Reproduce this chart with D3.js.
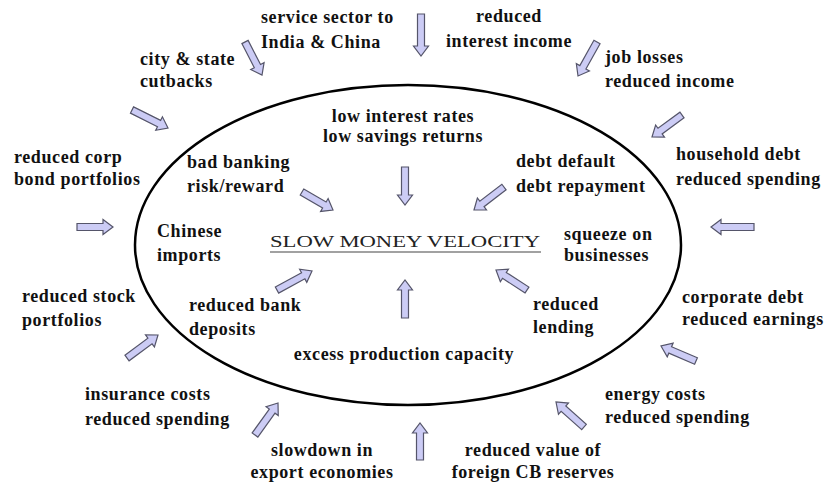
<!DOCTYPE html>
<html>
<head>
<meta charset="utf-8">
<script src="https://cdn.jsdelivr.net/npm/d3@7"></script>
<style>
	body { margin: 0; background: #ffffff; }
	text { font-family: "Liberation Serif", "Times New Roman", serif; fill: #111; }
</style>
</head>
<body>
<div id="canvas"></div>
<script>
// factors outside the ellipse (pushing in)
const outerFactors = [
	["service sector to", "India & China"],
	["reduced", "interest income"],
	["city & state", "cutbacks"],
	["job losses", "reduced income"],
	["reduced corp", "bond portfolios"],
	["household debt", "reduced spending"],
	["reduced stock", "portfolios"],
	["corporate debt", "reduced earnings"],
	["insurance costs", "reduced spending"],
	["energy costs", "reduced spending"],
	["slowdown in", "export economies"],
	["reduced value of", "foreign CB reserves"],
];

// factors inside the ellipse
const innerFactors = [
	["low interest rates", "low savings returns"],
	["bad banking", "risk/reward"],
	["debt default", "debt repayment"],
	["Chinese", "imports"],
	["squeeze on", "businesses"],
	["reduced bank", "deposits"],
	["reduced", "lending"],
	["excess production capacity"],
];

const title = "SLOW MONEY VELOCITY";

// layout (diagram units) -- label anchor [x, firstBaseline, lineGap, anchor]
const outerLayout = [
	[261, 23, 25, "start"],
	[509, 22, 25, "middle"],
	[140, 65, 22, "start"],
	[605, 63, 24, "start"],
	[14, 163, 22, "start"],
	[676, 160, 25, "start"],
	[22, 302, 24, "start"],
	[682, 303, 22, "start"],
	[85, 400, 25, "start"],
	[605, 400, 23, "start"],
	[322, 456, 22, "middle"],
	[533, 456, 22, "middle"],
];
const innerLayout = [
	[403, 122, 20, "middle"],
	[187, 168, 24, "start"],
	[516, 167, 25, "start"],
	[157, 237, 24, "start"],
	[564, 240, 21, "start"],
	[189, 311, 24, "start"],
	[533, 310, 23, "start"],
	[404, 360, 0, "middle"],
];

// arrows: tail x, tail y, tip x, tip y
const outerArrows = [
	[245, 42, 262, 75],
	[421, 14, 421, 56],
	[597, 42, 578, 76],
	[682, 115, 652, 137],
	[754, 227, 711, 227],
	[696, 361, 661, 346],
	[584, 427, 556, 402],
	[420, 460, 420, 423],
	[255, 435, 278, 403],
	[127, 358, 158, 335],
	[77, 227, 113, 227],
	[132, 110, 168, 128],
];
const innerArrows = [
	[405, 167, 405, 205],
	[302, 192, 333, 210],
	[504, 187, 474, 210],
	[527, 290, 496, 270],
	[405, 318, 405, 280],
	[277, 290, 312, 271],
];

const ellipseBox = { cx: 408, cy: 245, rx: 273, ry: 160 };

const width = 828;
const height = 486;

const svg = d3.select("#canvas").append("svg")
	.attr("width", width)
	.attr("height", height);

const x = d3.scaleLinear().domain([0, 828]).range([0, width]);
const y = d3.scaleLinear().domain([0, 486]).range([0, height]);

svg.append("ellipse")
	.attr("cx", x(ellipseBox.cx))
	.attr("cy", y(ellipseBox.cy))
	.attr("rx", x(ellipseBox.rx) - x(0))
	.attr("ry", y(ellipseBox.ry) - y(0))
	.style("fill", "none")
	.style("stroke", "#000")
	.style("stroke-width", 2.5);

// block arrow drawn along +x, then rotated
const arrowPath = (len) => {
	const shaft = 3.5, head = 7.5, headLen = 10;
	const b = len - headLen;
	return `M0,${-shaft}L${b},${-shaft}L${b},${-head}L${len},0L${b},${head}L${b},${shaft}L0,${shaft}Z`;
};

const drawArrows = (list, cls) => {
	svg.append("g").attr("class", cls)
		.selectAll("path")
		.data(list)
		.enter()
		.append("path")
		.attr("d", (d) => {
			const dx = x(d[2]) - x(d[0]), dy = y(d[3]) - y(d[1]);
			return arrowPath(Math.sqrt(dx * dx + dy * dy));
		})
		.attr("transform", (d) => {
			const ang = Math.atan2(y(d[3]) - y(d[1]), x(d[2]) - x(d[0])) * 180 / Math.PI;
			return `translate(${x(d[0])},${y(d[1])}) rotate(${ang})`;
		})
		.style("fill", "#ccccf5")
		.style("stroke", "#55556a")
		.style("stroke-width", 1.2)
		.style("stroke-linejoin", "miter");
};

drawArrows(outerArrows, "outer-arrows");
drawArrows(innerArrows, "inner-arrows");

const drawLabels = (labels, layout, size, cls) => {
	const g = svg.append("g").attr("class", cls);
	labels.forEach((lines, i) => {
		const [lx, ly, gap, anchor] = layout[i];
		const t = g.append("text")
			.attr("text-anchor", anchor)
			.style("font-size", size + "px")
			.style("font-weight", "bold")
			.style("letter-spacing", "0.6px");
		t.selectAll("tspan")
			.data(lines)
			.enter()
			.append("tspan")
			.attr("x", x(lx))
			.attr("y", (d, j) => y(ly + j * gap))
			.text((d) => d);
	});
};

drawLabels(outerFactors, outerLayout, 18, "outer-labels");
drawLabels(innerFactors, innerLayout, 18, "inner-labels");

svg.append("text")
	.attr("x", x(270))
	.attr("y", y(247))
	.attr("textLength", x(540) - x(270))
	.attr("lengthAdjust", "spacingAndGlyphs")
	.style("font-size", "17px")
	.style("fill", "#222")
	.text(title);

svg.append("line")
	.attr("x1", x(270))
	.attr("x2", x(541))
	.attr("y1", y(252))
	.attr("y2", y(252))
	.style("stroke", "#444")
	.style("stroke-width", 1.2);
</script>
</body>
</html>
